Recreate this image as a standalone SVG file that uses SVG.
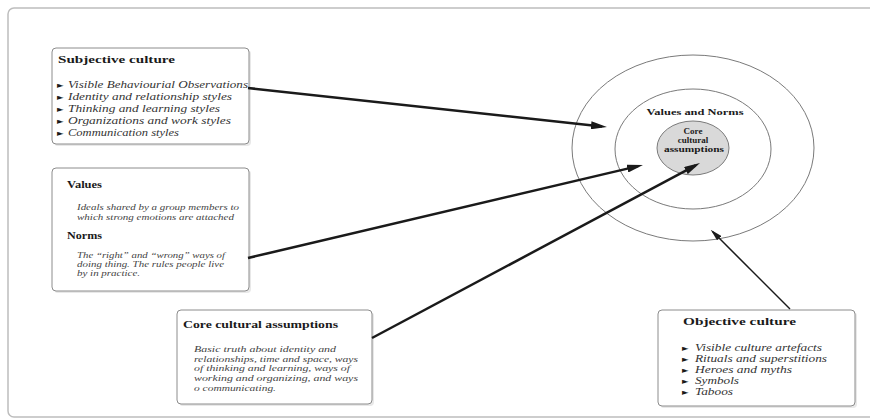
<svg xmlns="http://www.w3.org/2000/svg" width="870" height="419" viewBox="0 0 870 419">
  <style>
    .frame { fill: #ffffff; stroke: #bdbdbd; stroke-width: 1.5; }
    .box { fill: #ffffff; stroke: #8c8c8c; stroke-width: 1; }
    .shadow { fill: #e8e8e8; stroke: none; }
    .ring { fill: none; stroke: #7a7a7a; stroke-width: 1; }
    .core { fill: #d9d9d9; stroke: #7a7a7a; stroke-width: 1; }
    .title { font-family: "Liberation Serif", "Times New Roman", serif; font-weight: bold; font-size: 11px; fill: #1a1a1a; }
    .item { font-family: "Liberation Serif", "Times New Roman", serif; font-style: italic; font-size: 10px; fill: #333333; }
    .note { font-family: "Liberation Serif", "Times New Roman", serif; font-style: italic; font-size: 8.5px; fill: #444444; }
    .bullet { font-family: "DejaVu Sans", sans-serif; font-size: 8.5px; fill: #1a1a1a; }
    .ctext { font-family: "Liberation Serif", "Times New Roman", serif; font-weight: bold; font-size: 9px; fill: #1a1a1a; text-anchor: middle; }
    .link { fill: none; stroke: #1a1a1a; stroke-width: 2.5; }
    .link-thin { fill: none; stroke: #1a1a1a; stroke-width: 1.5; }
  </style>
  <defs>
    <marker id="head" markerUnits="userSpaceOnUse" markerWidth="16" markerHeight="8" refX="11" refY="4" orient="auto">
      <path d="M0,0 L16,4 L0,8 z" fill="#1a1a1a"/>
    </marker>
    <marker id="head-small" markerUnits="userSpaceOnUse" markerWidth="12" markerHeight="6" refX="9" refY="3" orient="auto">
      <path d="M0,0 L12,3 L0,6 z" fill="#1a1a1a"/>
    </marker>
  </defs>

  <!-- page frame -->
  <rect class="frame" x="8" y="8" width="900" height="409" rx="6"/>

  <!-- concentric layers -->
  <g id="layers">
    <ellipse class="ring" cx="693" cy="148" rx="121" ry="93"/>
    <ellipse class="ring" cx="693" cy="149" rx="78" ry="60"/>
    <ellipse class="core" cx="693" cy="148" rx="36" ry="27"/>
    <text class="ctext" x="695" y="115" textLength="97" lengthAdjust="spacingAndGlyphs">Values and Norms</text>
    <text class="ctext" x="693" y="134">Core</text>
    <text class="ctext" x="693" y="143">cultural</text>
    <text class="ctext" x="694" y="152" textLength="60" lengthAdjust="spacingAndGlyphs">assumptions</text>
  </g>

  <!-- subjective culture -->
  <g id="subjective">
    <rect class="shadow" x="54" y="50" width="197" height="96" rx="4"/>
    <rect class="box" x="52" y="48" width="197" height="96" rx="4"/>
    <text class="title" x="58" y="63" textLength="117" lengthAdjust="spacingAndGlyphs">Subjective culture</text>
    <text class="bullet" x="57" y="88">►</text>
    <text class="item" x="68" y="88" textLength="180" lengthAdjust="spacingAndGlyphs">Visible Behaviourial Observations</text>
    <text class="bullet" x="57" y="100">►</text>
    <text class="item" x="68" y="100" textLength="164" lengthAdjust="spacingAndGlyphs">Identity and relationship styles</text>
    <text class="bullet" x="57" y="112">►</text>
    <text class="item" x="68" y="112" textLength="152" lengthAdjust="spacingAndGlyphs">Thinking and learning styles</text>
    <text class="bullet" x="57" y="124">►</text>
    <text class="item" x="68" y="124" textLength="163" lengthAdjust="spacingAndGlyphs">Organizations and work styles</text>
    <text class="bullet" x="57" y="136">►</text>
    <text class="item" x="68" y="136" textLength="111" lengthAdjust="spacingAndGlyphs">Communication styles</text>
  </g>

  <!-- values and norms -->
  <g id="values-norms">
    <rect class="shadow" x="54" y="170" width="197" height="123" rx="4"/>
    <rect class="box" x="52" y="168" width="197" height="123" rx="4"/>
    <text class="title" x="67" y="188" textLength="35" lengthAdjust="spacingAndGlyphs">Values</text>
    <text class="note" x="77" y="210" textLength="162" lengthAdjust="spacingAndGlyphs">Ideals shared by a group members to</text>
    <text class="note" x="77" y="220" textLength="157" lengthAdjust="spacingAndGlyphs">which strong emotions are attached</text>
    <text class="title" x="67" y="239" textLength="35" lengthAdjust="spacingAndGlyphs">Norms</text>
    <text class="note" x="77" y="258" textLength="148" lengthAdjust="spacingAndGlyphs">The “right” and “wrong” ways of</text>
    <text class="note" x="77" y="267" textLength="147" lengthAdjust="spacingAndGlyphs">doing thing. The rules people live</text>
    <text class="note" x="77" y="276" textLength="63" lengthAdjust="spacingAndGlyphs">by in practice.</text>
  </g>

  <!-- core cultural assumptions -->
  <g id="core-assumptions">
    <rect class="shadow" x="179" y="312" width="195" height="94" rx="4"/>
    <rect class="box" x="177" y="310" width="195" height="94" rx="4"/>
    <text class="title" x="183" y="328" textLength="155" lengthAdjust="spacingAndGlyphs">Core cultural assumptions</text>
    <text class="note" x="194" y="352" textLength="142" lengthAdjust="spacingAndGlyphs">Basic truth about identity and</text>
    <text class="note" x="194" y="362" textLength="164" lengthAdjust="spacingAndGlyphs">relationships, time and space, ways</text>
    <text class="note" x="194" y="371" textLength="156" lengthAdjust="spacingAndGlyphs">of thinking and learning, ways of</text>
    <text class="note" x="194" y="381" textLength="164" lengthAdjust="spacingAndGlyphs">working and organizing, and ways</text>
    <text class="note" x="194" y="391" textLength="82" lengthAdjust="spacingAndGlyphs">o communicating.</text>
  </g>

  <!-- objective culture -->
  <g id="objective">
    <rect class="shadow" x="660" y="312" width="197" height="96" rx="4"/>
    <rect class="box" x="658" y="310" width="197" height="96" rx="4"/>
    <text class="title" x="683" y="325" textLength="113" lengthAdjust="spacingAndGlyphs">Objective culture</text>
    <text class="bullet" x="682" y="351">►</text>
    <text class="item" x="695" y="351" textLength="127" lengthAdjust="spacingAndGlyphs">Visible culture artefacts</text>
    <text class="bullet" x="682" y="362">►</text>
    <text class="item" x="695" y="362" textLength="132" lengthAdjust="spacingAndGlyphs">Rituals and superstitions</text>
    <text class="bullet" x="682" y="373">►</text>
    <text class="item" x="695" y="373" textLength="97" lengthAdjust="spacingAndGlyphs">Heroes and myths</text>
    <text class="bullet" x="682" y="384">►</text>
    <text class="item" x="695" y="384" textLength="44" lengthAdjust="spacingAndGlyphs">Symbols</text>
    <text class="bullet" x="682" y="395">►</text>
    <text class="item" x="695" y="395" textLength="38" lengthAdjust="spacingAndGlyphs">Taboos</text>
  </g>

  <!-- connectors -->
  <g id="connectors">
    <path class="link" d="M248,88 L602,126.5" marker-end="url(#head)"/>
    <path class="link" d="M248,258 L638.1,166.1" marker-end="url(#head)"/>
    <path class="link" d="M372,338 L695.6,165.4" marker-end="url(#head)"/>
    <path class="link-thin" d="M790,309 L712.8,231.8" marker-end="url(#head-small)"/>
  </g>
</svg>
